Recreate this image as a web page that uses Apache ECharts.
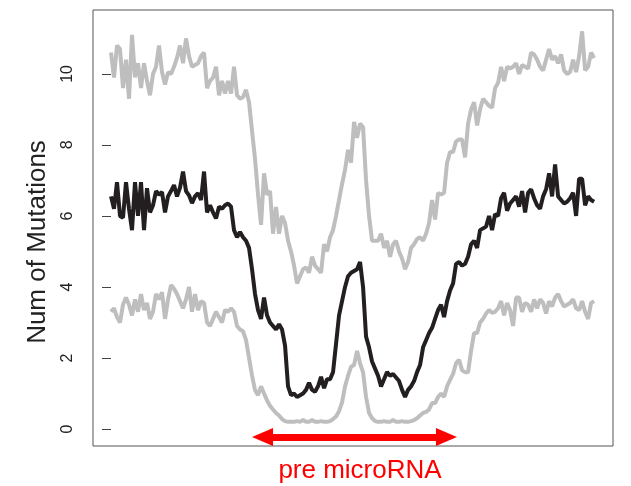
<!DOCTYPE html>
<html>
<head>
<meta charset="utf-8">
<script src="https://cdn.jsdelivr.net/npm/echarts@6/dist/echarts.min.js"></script>
<style>
  html, body { margin: 0; padding: 0; background: #fff; }
  #chart { width: 631px; height: 486px; }
</style>
</head>
<body>
<div id="chart"></div>
<script>
// y tick labels
const yTicks = [0, 2, 4, 6, 8, 10];

// upper gray curve
const upper = [10.6,9.9,10.8,10.7,9.6,10.4,9.3,11.1,9.9,10.3,
  9.6,10.3,9.8,9.4,10.0,10.2,10.8,10.05,9.7,10.05,
  10.0,10.2,10.45,10.8,10.3,11.0,10.5,10.2,10.25,10.3,
  10.5,10.6,9.6,9.8,9.9,10.2,9.4,9.8,9.45,9.8,
  9.45,10.2,9.4,9.3,9.35,9.55,9.2,8.4,7.6,6.6,
  5.75,7.2,6.6,6.7,5.5,6.25,5.5,6.0,5.8,5.3,
  5.0,4.6,4.1,4.3,4.5,4.55,4.4,4.85,4.6,4.5,
  4.4,5.2,5.0,5.4,5.6,6.0,6.45,6.9,7.3,7.86,
  7.5,8.65,8.2,8.6,8.5,7.0,6.0,5.3,5.3,5.3,
  5.5,5.1,5.3,4.85,5.2,5.3,5.0,4.8,4.5,4.7,
  5.1,5.2,5.35,5.4,5.3,5.5,5.8,6.45,5.9,6.65,
  6.6,6.65,7.5,7.8,7.8,8.1,8.15,8.15,7.65,8.6,
  9.0,9.2,8.55,9.0,9.3,9.2,9.1,9.05,9.6,9.75,
  10.2,9.8,10.2,10.15,10.2,10.3,10.0,10.25,10.2,10.15,
  10.6,10.55,10.4,10.2,10.1,10.4,10.7,10.4,10.5,10.3,
  10.55,10.1,10.0,10.05,10.4,10.05,10.5,11.2,10.1,10.2,
  10.6,10.45];

// middle black curve
const middle = [6.55,6.2,6.95,6.0,5.95,6.95,6.2,5.6,6.95,6.0,
  6.95,5.6,6.78,6.1,6.3,6.7,6.6,6.67,6.1,6.55,
  6.7,6.87,6.55,6.8,7.25,6.7,6.58,6.36,6.55,6.64,
  6.45,7.25,6.1,6.3,6.1,5.93,6.26,6.2,6.3,6.35,
  6.26,5.6,5.4,5.55,5.4,5.3,5.1,4.5,3.8,3.35,
  3.1,3.7,3.2,3.0,2.9,2.8,2.95,2.8,2.35,1.2,
  0.95,1.0,0.9,0.95,1.0,1.1,1.3,1.1,1.05,1.2,
  1.47,1.15,1.4,1.4,1.6,2.4,3.2,3.6,4.0,4.3,
  4.4,4.45,4.5,4.7,4.0,2.6,2.3,1.9,1.7,1.5,
  1.2,1.4,1.6,1.5,1.55,1.45,1.35,1.1,0.9,1.1,
  1.2,1.35,1.6,1.8,2.3,2.5,2.7,2.85,3.1,3.35,
  3.5,3.15,3.6,3.9,4.1,4.65,4.7,4.6,4.65,4.85,
  5.2,5.3,5.1,5.6,5.65,5.7,6.0,5.6,6.05,6.0,
  6.5,6.65,6.15,6.35,6.45,6.55,6.26,6.7,6.1,6.65,
  6.75,6.5,6.3,6.2,6.55,6.75,7.2,6.55,7.45,6.55,
  6.45,6.35,6.4,6.5,6.65,6.0,7.05,7.05,6.3,6.55,
  6.45,6.4];

// lower gray curve
const lower = [3.3,3.4,3.15,3.0,3.5,3.7,3.5,3.2,3.65,3.3,
  3.8,3.35,3.55,3.1,3.3,3.8,3.65,3.85,3.1,3.65,
  4.05,3.95,3.8,3.6,3.4,3.65,4.0,3.3,3.8,3.35,
  3.6,3.55,3.0,2.9,3.1,3.3,3.15,3.0,3.35,3.3,
  3.4,3.3,2.9,2.8,2.75,2.5,2.0,1.5,1.1,0.95,
  1.2,1.0,0.8,0.65,0.55,0.45,0.38,0.28,0.22,0.2,
  0.2,0.2,0.22,0.2,0.25,0.2,0.2,0.25,0.2,0.2,
  0.22,0.2,0.2,0.22,0.28,0.35,0.5,0.75,1.2,1.5,
  1.75,1.8,2.2,1.85,1.6,0.9,0.45,0.3,0.22,0.2,
  0.2,0.22,0.2,0.2,0.25,0.2,0.2,0.22,0.2,0.2,
  0.22,0.25,0.3,0.38,0.45,0.48,0.55,0.73,0.73,0.9,
  1.0,0.9,1.2,1.38,1.55,1.85,1.95,1.65,1.6,1.6,
  2.2,2.7,2.7,3.0,3.1,3.25,3.35,3.27,3.3,3.4,
  3.6,3.2,3.55,3.35,2.9,3.7,3.7,3.3,3.55,3.5,
  3.3,3.65,3.4,3.65,3.55,3.25,3.6,3.45,3.7,3.8,
  3.6,3.45,3.5,3.55,3.65,3.4,3.35,3.6,3.3,3.1,
  3.55,3.6];

// pre microRNA span (positions) and height of the arrow
const arrowSpan = [50.5, 111.8];
const arrowY = -0.225;

const font = '"Liberation Sans", Arial, Helvetica, sans-serif';
const toPairs = arr => arr.map((v, i) => [i, v]);

const chart = echarts.init(document.getElementById('chart'));
chart.setOption({
  animation: false,
  grid: {
    left: 93, right: 18, top: 10, bottom: 40,
    outerBoundsMode: 'none',
    show: true, borderColor: '#555', borderWidth: 1
  },
  xAxis: {
    type: 'value',
    min: -6, max: 167.3,
    axisLine: { show: false },
    axisTick: { show: false },
    axisLabel: { show: false },
    splitLine: { show: false },
    name: 'pre microRNA',
    nameLocation: 'middle',
    nameGap: 12,
    nameTextStyle: { color: '#ff0000', fontSize: 26, fontFamily: font, padding: [0, 0, 0, 14] }
  },
  yAxis: {
    type: 'value',
    min: -0.48, max: 11.8,
    axisLine: { show: false },
    axisTick: {
      show: true, length: 9, inside: false,
      customValues: yTicks,
      lineStyle: { color: '#444', width: 1 }
    },
    axisLabel: {
      show: true, rotate: 90, fontSize: 16, color: '#222', fontFamily: font,
      margin: 17, customValues: yTicks
    },
    splitLine: { show: false },
    name: 'Num of Mutations',
    nameLocation: 'middle',
    nameRotate: 90,
    nameGap: 42,
    nameTextStyle: { color: '#222', fontSize: 26, fontFamily: font, padding: [0, 28, 0, 0] }
  },
  series: [
    {
      type: 'line', data: toPairs(upper), showSymbol: false,
      lineStyle: { color: '#bebebe', width: 4 }, z: 2
    },
    {
      type: 'line', data: toPairs(lower), showSymbol: false,
      lineStyle: { color: '#bebebe', width: 4 }, z: 2
    },
    {
      type: 'line', data: toPairs(middle), showSymbol: false,
      lineStyle: { color: '#231f20', width: 4 }, z: 3,
      markLine: {
        silent: true,
        symbol: ['triangle', 'triangle'],
        symbolSize: [18, 21],
        label: { show: false },
        lineStyle: { color: '#ff0000', width: 7, type: 'solid' },
        itemStyle: { color: '#ff0000' },
        data: [[{ coord: [arrowSpan[0], arrowY] }, { coord: [arrowSpan[1], arrowY] }]]
      }
    }
  ]
});
</script>
</body>
</html>
